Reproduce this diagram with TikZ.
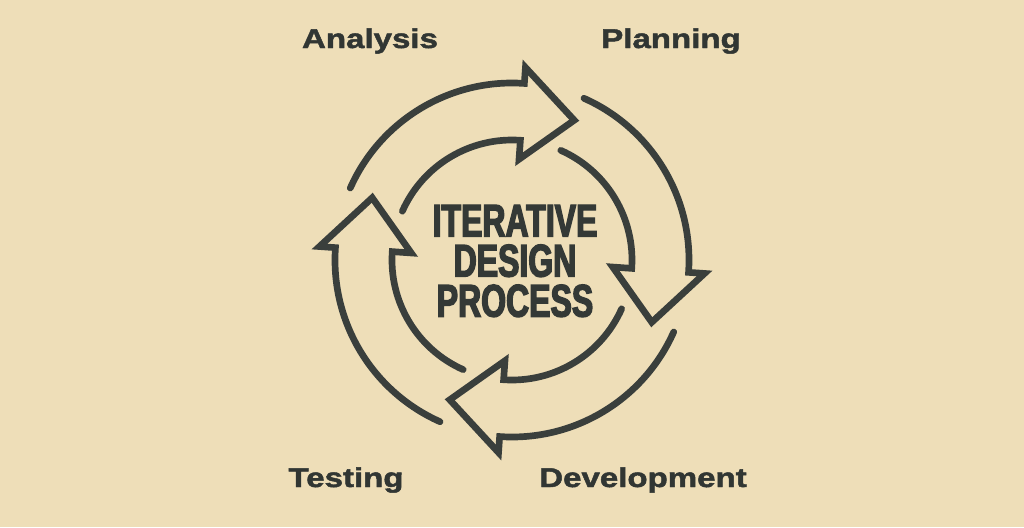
\documentclass[tikz,border=0pt]{standalone}
\usepackage{fontspec}
\usepackage{tikz}
\setmainfont{Liberation Sans}
\newfontfamily\labelfont[FakeStretch=1.22, FakeBold=1.8]{Liberation Sans}
\newfontfamily\titlefont[FakeStretch=0.7, FakeBold=3]{Liberation Sans}
\definecolor{paper}{HTML}{EEDEB8}
\definecolor{ink}{HTML}{3A3F3C}
\tikzset{cyclearrow/.style = {draw=ink, line width=1.9pt, line cap=round, line join=miter},
         stagelabel/.style = {anchor=base, text=ink!85!black, inner sep=0pt,
                              font=\labelfont\bfseries\fontsize{7.7pt}{9pt}\selectfont}}

\begin{document}
\begin{tikzpicture}[x=0.01cm, y=0.01cm]
      \fill [paper] (-512, -267) rectangle (512, 260);
      \useasboundingbox (-512, -267) rectangle (512, 260);
      \draw [cyclearrow] (156:120) arc [start angle=156, end angle=86, radius=120]
            -- (86:101) -- (66:153) -- (86:193) -- (86:177)
            arc [start angle=86, end angle=156, radius=177];
      \draw [cyclearrow] (66:120) arc [start angle=66, end angle=-4, radius=120]
            -- (-4:101) -- (-24:153) -- (-4:193) -- (-4:177)
            arc [start angle=-4, end angle=66, radius=177];
      \draw [cyclearrow] (-24:120) arc [start angle=-24, end angle=-94, radius=120]
            -- (-94:101) -- (-114:153) -- (-94:193) -- (-94:177)
            arc [start angle=-94, end angle=-24, radius=177];
      \draw [cyclearrow] (-114:120) arc [start angle=-114, end angle=-184, radius=120]
            -- (-184:101) -- (-204:153) -- (-184:193) -- (-184:177)
            arc [start angle=-184, end angle=-114, radius=177];
      \node (title) [align=center, text=ink!90!black, inner sep=0pt,
                     font=\titlefont\bfseries\fontsize{13pt}{11.4pt}\selectfont]
            at (3, -1) {ITERATIVE\\DESIGN\\PROCESS};
      \node (analysis) [stagelabel] at (-142, 212) {Analysis};
      \node (planning) [stagelabel] at (159, 212) {Planning};
      \node (testing) [stagelabel] at (-166, -227) {Testing};
      \node (development) [stagelabel] at (131, -227) {Development};
    \end{tikzpicture}
\end{document}
